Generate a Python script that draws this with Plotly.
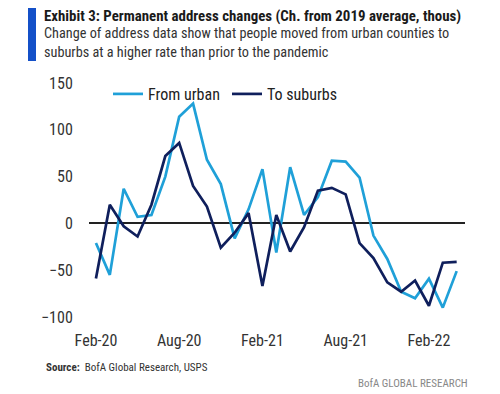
import plotly.graph_objects as go

months = ["Feb-20", "Mar-20", "Apr-20", "May-20", "Jun-20", "Jul-20", "Aug-20", "Sep-20",
          "Oct-20", "Nov-20", "Dec-20", "Jan-21", "Feb-21", "Mar-21", "Apr-21", "May-21",
          "Jun-21", "Jul-21", "Aug-21", "Sep-21", "Oct-21", "Nov-21", "Dec-21", "Jan-22",
          "Feb-22", "Mar-22", "Apr-22"]
from_urban = [-21, -55, 37, 7, 9, 50, 114, 128, 68, 42, -16, 15, 58, -31, 60, 9,
              28, 67, 66, 49, -13, -38, -73, -80, -59, -90, -51]
to_suburbs = [-59, 20, -3, -14, 20, 72, 86, 40, 18, -26, -10, 11, -67, 9, -30, -4,
              35, 38, 31, -21, -37, -63, -73, -61, -88, -42, -41]
tick_months = ["Feb-20", "Aug-20", "Feb-21", "Aug-21", "Feb-22"]
y_ticks = [-100, -50, 0, 50, 100, 150]

FONT = "Liberation Sans Narrow, Roboto Condensed, Arial Narrow, Roboto, sans-serif"
OFF = 8  # default page body margin
W, H = 500 - OFF, 394 - OFF
L, R, T, B = 89, 465, 83, 317  # page pixel coords of plot area

def px(x):
    return (x - L) / (R - L)

def py(y):
    return (B - y) / (B - T)

fig = go.Figure()
fig.add_trace(go.Scatter(x=months, y=from_urban, mode="lines", name="From urban",
                         line=dict(color="#1fa0d8", width=2.7)))
fig.add_trace(go.Scatter(x=months, y=to_suburbs, mode="lines", name="To suburbs",
                         line=dict(color="#0f1f5c", width=2.7)))

fig.update_layout(
    width=W, height=H,
    margin=dict(l=L - OFF, r=W - (R - OFF), t=T - OFF, b=H - (B - OFF)),
    paper_bgcolor="white", plot_bgcolor="white",
    font=dict(family=FONT, color="#222222", size=16),
    showlegend=True,
    legend=dict(orientation="h", x=px(108), xanchor="left", y=py(94), yanchor="middle",
                font=dict(size=16, color="#222222"), bgcolor="rgba(0,0,0,0)",
                itemwidth=30, tracegroupgap=0, entrywidth=74, entrywidthmode="pixels"),
    xaxis=dict(type="category", range=[-0.5, 26.6], tickmode="array", tickvals=tick_months,
               ticktext=tick_months, showgrid=False, showline=False, zeroline=False,
               ticks="outside", ticklen=9, tickcolor="rgba(0,0,0,0)",
               tickfont=dict(size=16, color="#333333")),
    yaxis=dict(range=[-100, 150], tickvals=y_ticks, showgrid=False, showline=False,
               zeroline=True, zerolinecolor="#222222", zerolinewidth=1.5,
               ticks="outside", ticklen=12, tickcolor="rgba(0,0,0,0)",
               tickfont=dict(size=16, color="#333333")),
)

fig.add_shape(type="rect", xref="paper", yref="paper", x0=px(28), x1=px(36), y0=py(61), y1=py(6),
              fillcolor="#1450c8", line=dict(width=0), layer="above")

fig.add_annotation(xref="paper", yref="paper", x=px(42), y=py(16.5), xanchor="left", yanchor="middle",
                   text="<b>Exhibit 3: Permanent address changes (Ch. from 2019 average, thous)</b>",
                   showarrow=False, font=dict(size=14.9, color="#1a1a1a", family=FONT))
fig.add_annotation(xref="paper", yref="paper", x=px(42), y=py(42.5), xanchor="left", yanchor="middle",
                   text="Change of address data show that people moved from urban counties to<br>"
                        "suburbs at a higher rate than prior to the pandemic",
                   showarrow=False, align="left", font=dict(size=14.25, color="#333333", family=FONT))
fig.add_annotation(xref="paper", yref="paper", x=px(44), y=py(367), xanchor="left", yanchor="middle",
                   text="<b>Source:</b>  BofA Global Research, USPS",
                   showarrow=False, font=dict(size=11, color="#333333", family=FONT))
fig.add_annotation(xref="paper", yref="paper", x=px(470), y=py(383), xanchor="right", yanchor="middle",
                   text="BofA GLOBAL RESEARCH",
                   showarrow=False, font=dict(size=11, color="#888888", family=FONT))

fig.write_html("out.html")
